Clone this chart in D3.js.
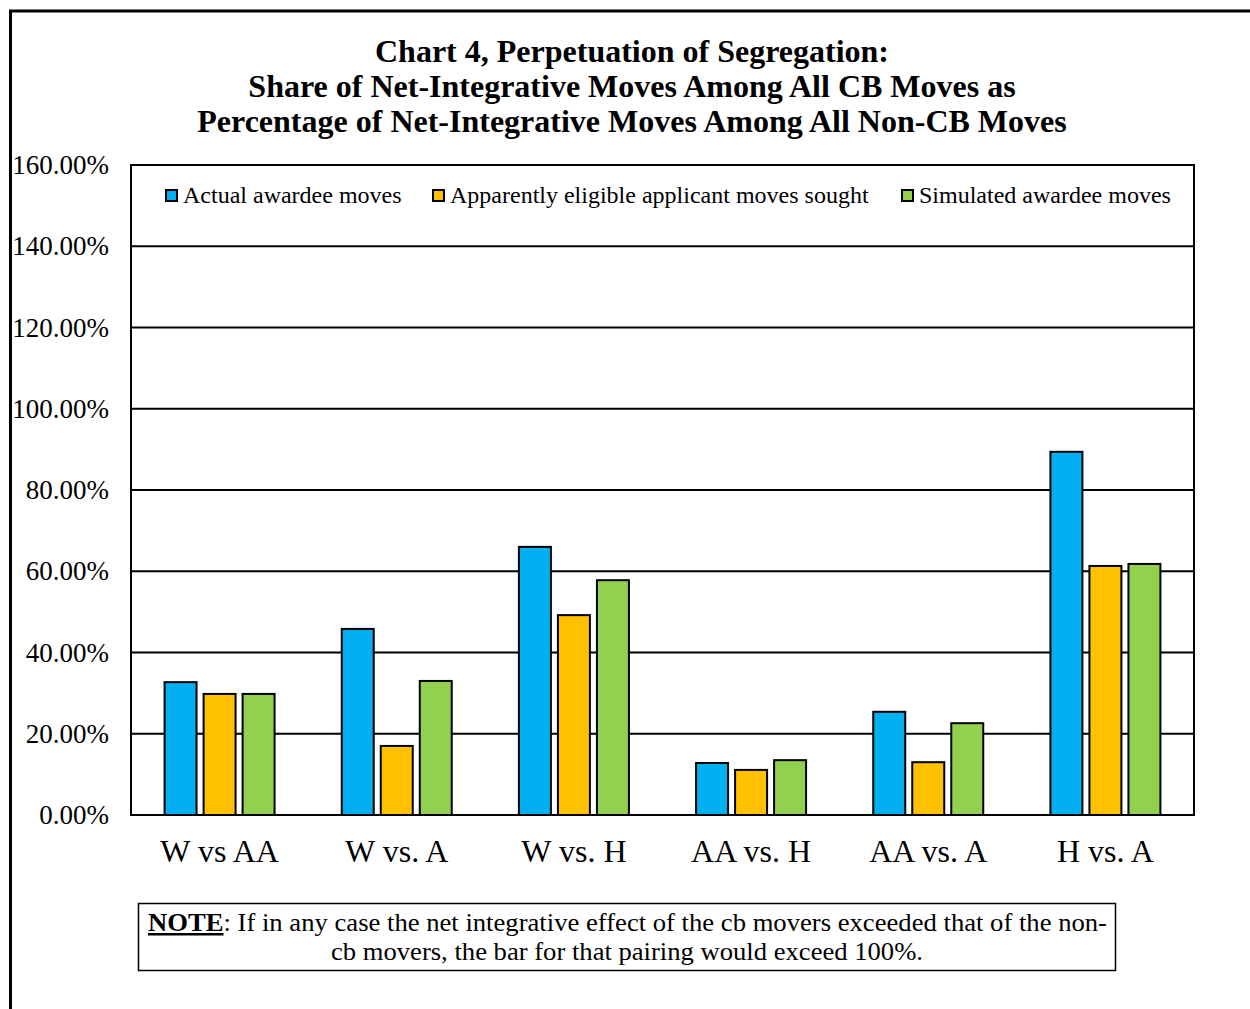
<!DOCTYPE html>
<html>
<head>
<meta charset="utf-8">
<script src="https://cdn.jsdelivr.net/npm/d3@7"></script>
<style>
  body { margin: 0; background: #fff; }
  text { font-family: "Liberation Serif", "Times New Roman", serif; }
</style>
</head>
<body>
<div id="chart"></div>
<script>
const categories = ["W vs AA", "W vs. A", "W vs. H", "AA vs. H", "AA vs. A", "H vs. A"];
const seriesNames = ["Actual awardee moves", "Apparently eligible applicant moves sought", "Simulated awardee moves"];
const actual = [32.7, 45.8, 66.0, 12.8, 25.4, 89.4];
const eligible = [29.8, 17.0, 49.2, 11.1, 13.0, 61.3];
const simulated = [29.8, 33.0, 57.8, 13.5, 22.6, 61.8];
const colors = ["#00b0f0", "#ffc000", "#92d050"];
const yTicks = [0, 20, 40, 60, 80, 100, 120, 140, 160];
const titleLines = [
    "Chart 4, Perpetuation of Segregation:",
    "Share of Net-Integrative Moves Among All CB Moves as",
    "Percentage of Net-Integrative Moves Among All Non-CB Moves"
];

const width = 1250, height = 1009;
const margin = {top: 165, right: 56, bottom: 194, left: 131};
const innerW = width - margin.left - margin.right;
const innerH = height - margin.top - margin.bottom;
const serif = "'Liberation Serif', serif";

const svg = d3.select("#chart").append("svg")
    .attr("width", width)
    .attr("height", height);

// outer frame (cropped at right and bottom)
svg.append("path")
    .attr("d", "M10.5," + height + " V11 H" + width)
    .attr("fill", "none")
    .attr("stroke", "#000")
    .attr("stroke-width", 3);

// title
svg.append("g").selectAll("text")
    .data(titleLines)
    .enter().append("text")
    .attr("x", 632)
    .attr("y", (d, i) => 62 + i * 35)
    .attr("text-anchor", "middle")
    .style("font-size", "32px")
    .style("font-weight", "bold")
    .text(d => d);

const g = svg.append("g")
    .attr("transform", `translate(${margin.left},${margin.top})`);

const x0 = d3.scaleBand()
    .domain(categories)
    .range([0, innerW]);

const x1 = d3.scaleBand()
    .domain(d3.range(3))
    .range([x0.bandwidth() / 2 - 55, x0.bandwidth() / 2 + 55])
    .paddingInner(0.18);

const y = d3.scaleLinear()
    .domain([0, 160])
    .range([innerH, 0]);

// gridlines
g.append("g").selectAll("line")
    .data(yTicks)
    .enter().append("line")
    .attr("x1", 0).attr("x2", innerW)
    .attr("y1", d => y(d)).attr("y2", d => y(d))
    .attr("stroke", "#000")
    .attr("stroke-width", 2);

// y axis labels
g.append("g")
    .call(d3.axisLeft(y).tickValues(yTicks).tickSize(0).tickPadding(22)
        .tickFormat(d => d.toFixed(2) + "%"))
    .call(a => a.select(".domain").remove())
    .selectAll("text")
    .style("font-size", "27px")
    .style("font-family", serif);

// bars
const series = [actual, eligible, simulated];
const groups = g.append("g").selectAll("g")
    .data(categories)
    .enter().append("g")
    .attr("transform", d => `translate(${x0(d)},0)`);

groups.selectAll("rect")
    .data((d, i) => series.map((s, k) => ({k: k, v: s[i]})))
    .enter().append("rect")
    .attr("x", d => x1(d.k))
    .attr("y", d => y(d.v))
    .attr("width", x1.bandwidth())
    .attr("height", d => y(0) - y(d.v))
    .attr("fill", d => colors[d.k])
    .attr("stroke", "#000")
    .attr("stroke-width", 2);

// plot frame
g.append("rect")
    .attr("width", innerW)
    .attr("height", innerH)
    .attr("fill", "none")
    .attr("stroke", "#000")
    .attr("stroke-width", 2);

// x axis labels
g.append("g")
    .attr("transform", `translate(0,${innerH})`)
    .call(d3.axisBottom(x0).tickSize(0).tickPadding(24))
    .call(a => a.select(".domain").remove())
    .selectAll("text")
    .style("font-size", "32px")
    .style("font-family", serif);

// legend
const legendX = [35, 302, 771];
const legend = g.append("g").selectAll("g")
    .data(seriesNames)
    .enter().append("g")
    .attr("transform", (d, i) => `translate(${legendX[i]},25)`);
legend.append("rect")
    .attr("width", 11).attr("height", 11)
    .attr("fill", (d, i) => colors[i])
    .attr("stroke", "#000")
    .attr("stroke-width", 2);
legend.append("text")
    .attr("x", 17)
    .attr("y", 13)
    .style("font-size", "24px")
    .text(d => d);

// note box
svg.append("rect")
    .attr("x", 138.5).attr("y", 903.5)
    .attr("width", 977).attr("height", 67)
    .attr("fill", "none")
    .attr("stroke", "#000")
    .attr("stroke-width", 1.5);

const note1 = svg.append("text")
    .attr("x", 148).attr("y", 931)
    .attr("textLength", 959)
    .attr("lengthAdjust", "spacingAndGlyphs")
    .style("font-size", "25px");
note1.append("tspan").style("font-weight", "bold").style("text-decoration", "underline").text("NOTE");
note1.append("tspan").text(": If in any case the net integrative effect of the cb movers exceeded that of the non-");

svg.append("text")
    .attr("x", 627).attr("y", 960)
    .attr("text-anchor", "middle")
    .attr("textLength", 592)
    .attr("lengthAdjust", "spacingAndGlyphs")
    .style("font-size", "25px")
    .text("cb movers, the bar for that pairing would exceed 100%.");
</script>
</body>
</html>
